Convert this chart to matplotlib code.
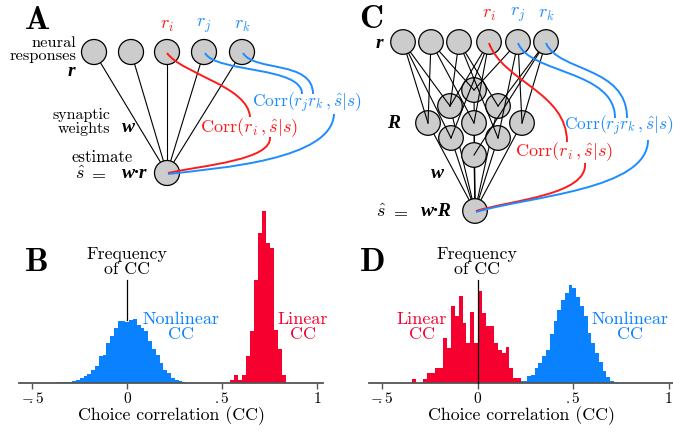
import matplotlib
matplotlib.use("Agg")
import matplotlib.pyplot as plt
import numpy as np
from matplotlib.patches import Circle, PathPatch
from matplotlib.path import Path

plt.rcParams["mathtext.fontset"] = "cm"
plt.rcParams["font.family"] = "serif"
plt.rcParams["font.serif"] = ["cmr10", "DejaVu Serif"]
plt.rcParams["axes.unicode_minus"] = False

# ---- histogram data (bar heights) ----
b_nonlin_start, b_nonlin_width = -0.41, 0.02
b_nonlin = [0.5, 0.5, 1, 1, 1, 1.5, 2, 3, 5, 7, 9, 13, 17, 27, 28, 40, 47, 55, 62, 62,
            61, 63, 64, 58, 55, 52, 42, 34, 28, 20, 13, 10, 5, 3, 2, 1, 0.5, 0.5, 0.5, 0.5, 0.5]
b_lin_start, b_lin_width = 0.54, 0.021
b_lin = [3, 8, 3, 8, 27, 52, 103, 150, 172, 140, 135, 53, 34, 8]

d_lin_start, d_lin_width = -0.345, 0.0205
d_lin = [4, 0, 0, 4, 10, 10, 15, 15, 45, 35, 77, 67, 87, 60, 40, 71, 40, 92, 70, 57,
         57, 40, 33, 30, 36, 15, 5, 5]
d_nonlin_start, d_nonlin_width = 0.101, 0.0198
d_nonlin = [1, 1, 1, 1, 1, 2, 2, 2, 7, 8, 15, 20, 27, 33, 49, 62, 73, 83, 90, 98,
            95, 86, 77, 67, 50, 40, 30, 21, 12, 6, 2, 1]

tick_vals = [-0.5, 0, 0.5, 1]
tick_labels = [r"$-\!\!.5$", "$0$", "$.5$", "$1$"]

RED = "#f5002f"
BLUE = "#0a82ff"
CRED = "#ff1a1a"
CBLUE = "#1e8cff"
GRAY = "#cccccc"

W, H = 673, 432
fig = plt.figure(figsize=(W / 100, H / 100), dpi=100)


def edges(start, width, n):
    return start + width * np.arange(n + 1)


def hist_axes(left_px, zero_px, scale):
    ax = fig.add_axes([left_px / W, (H - 383) / H, 304 / W, 175 / H])
    ax.set_xlim((left_px - zero_px) / scale, (left_px + 304 - zero_px) / scale)
    ax.set_ylim(0, 175)
    ax.patch.set_alpha(0)
    for s in ["top", "left", "right"]:
        ax.spines[s].set_visible(False)
    ax.spines["bottom"].set_color("#555555")
    ax.spines["bottom"].set_linewidth(1.3)
    ax.set_yticks([])
    ax.set_xticks(tick_vals)
    ax.set_xticklabels(tick_labels, fontsize=11)
    ax.tick_params(axis="x", direction="out", length=4, width=1, color="#555555", pad=2)
    ax.set_xlabel("Choice correlation (CC)", fontsize=12.8, labelpad=0)
    return ax


axB = hist_axes(19, 127.3, 190)
axB.stairs(b_nonlin, edges(b_nonlin_start, b_nonlin_width, len(b_nonlin)), fill=True, color=BLUE)
axB.stairs(b_lin, edges(b_lin_start, b_lin_width, len(b_lin)), fill=True, color=RED)

axD = hist_axes(369, 477.5, 191)
axD.stairs(d_nonlin, edges(d_nonlin_start, d_nonlin_width, len(d_nonlin)), fill=True, color=BLUE)
axD.stairs(d_lin, edges(d_lin_start, d_lin_width, len(d_lin)), fill=True, color=RED)

# ---- overlay in pixel coordinates for diagrams ----
ov = fig.add_axes([0, 0, 1, 1])
ov.set_xlim(0, W)
ov.set_ylim(H, 0)
ov.axis("off")
ov.patch.set_alpha(0)


def neuron(x, y, r=12.5, z=3):
    ov.add_patch(Circle((x, y), r, facecolor=GRAY, edgecolor="black", lw=0.9, zorder=z))


def line(p, q, z=2, lw=0.8):
    ov.plot([p[0], q[0]], [p[1], q[1]], color="black", lw=lw, zorder=z)


def curve(pts, color, z=5):
    codes = [Path.MOVETO, Path.CURVE4, Path.CURVE4, Path.CURVE4]
    ov.add_patch(PathPatch(Path(pts, codes), facecolor="none", edgecolor=color, lw=1.4, zorder=z))


def bfit(x, y, s, **kw):
    ov.text(x, y, s, family="Liberation Serif", weight="bold", style="italic",
            va="center", zorder=6, **kw)


def lbl(x, y, s, size, **kw):
    ov.text(x, y, s, fontsize=size, va="center", linespacing=0.95, **kw)


# Panel A
lbl(37, 20, r"$\mathbf{A}$", 24, ha="center")
top_a = [94, 131, 167, 204, 242]
out_a = (167, 173)
for x in top_a:
    line((x, 52), out_a)
    neuron(x, 52)
neuron(*out_a)
lbl(167, 26, r"$r_i$", 13, color=CRED, ha="center")
lbl(204, 26, r"$r_j$", 13, color=CBLUE, ha="center")
lbl(242, 26, r"$r_k$", 13, color=CBLUE, ha="center")
lbl(76, 50, "neural\nresponses", 11.8, ha="right")
bfit(71, 71, "r", fontsize=14, ha="center")
lbl(110, 122, "synaptic\nweights", 11.5, ha="right")
bfit(128, 127, "w", fontsize=14, ha="center")
lbl(102, 157, "estimate", 12, ha="center")
lbl(80, 173, r"$\hat{s}$", 13, ha="center")
lbl(97, 173, r"$=$", 13, ha="center")
bfit(147, 174, "w·r", fontsize=14, ha="right")

curve([(167, 53), (182, 74), (248, 86), (250, 117)], CRED)
curve([(205, 53), (216, 73), (302, 66), (302, 94)], CBLUE)
curve([(243, 53), (254, 72), (313, 60), (313, 94)], CBLUE)
curve([(270, 137), (272, 160), (205, 165), (168, 173)], CRED)
curve([(334, 114), (332, 160), (220, 168), (168, 174)], CBLUE)
lbl(200, 128, r"$\mathrm{Corr}(r_i\,,\hat{s}|s)$", 13.2, color=CRED, ha="left")
lbl(252, 103, r"$\mathrm{Corr}(r_j r_k\,,\hat{s}|s)$", 12.6, color=CBLUE, ha="left")

# Panel C
lbl(371, 19, r"$\mathbf{C}$", 24, ha="center")
top_c = [403, 431, 459, 489, 518, 546]
hid_c = [(474, 90), (450, 106), (498, 106), (428, 123), (474, 123), (522, 123),
         (451, 138), (498, 138), (474, 155)]
out_c = (475, 211)
links = [(0, 3), (0, 1), (0, 6), (1, 3), (1, 0), (1, 4), (2, 1), (2, 2), (2, 7),
         (3, 1), (3, 4), (3, 6), (4, 0), (4, 5), (4, 7), (5, 2), (5, 5), (5, 8)]
for h in hid_c:
    line(h, out_c, z=1)
    neuron(*h, r=12.3, z=2)
for t, h in links:
    line((top_c[t], 42), hid_c[h], z=2.5)
for x in top_c:
    neuron(x, 42, r=12.3, z=3)
neuron(*out_c, r=12.3, z=3)
lbl(489, 15, r"$r_i$", 13, color=CRED, ha="center")
lbl(518, 15, r"$r_j$", 13, color=CBLUE, ha="center")
lbl(546, 15, r"$r_k$", 13, color=CBLUE, ha="center")
bfit(379, 44, "r", fontsize=14, ha="center")
bfit(394, 124, "R", fontsize=14, ha="center")
bfit(437, 174, "w", fontsize=14, ha="center")
lbl(381, 211, r"$\hat{s}$", 13, ha="center")
lbl(399, 211, r"$=$", 13, ha="center")
bfit(452, 212, "w·R", fontsize=14, ha="right")

curve([(489, 43), (503, 82), (567, 92), (567, 142)], CRED)
curve([(518, 43), (530, 74), (615, 70), (615, 118)], CBLUE)
curve([(546, 43), (558, 72), (627, 66), (627, 118)], CBLUE)
curve([(585, 163), (588, 195), (512, 200), (476, 211)], CRED)
curve([(648, 140), (648, 190), (530, 196), (476, 212)], CBLUE)
lbl(515, 152, r"$\mathrm{Corr}(r_i\,,\hat{s}|s)$", 13.2, color=CRED, ha="left")
lbl(564, 126, r"$\mathrm{Corr}(r_j r_k\,,\hat{s}|s)$", 12.6, color=CBLUE, ha="left")

# Panel B labels
lbl(36, 262, r"$\mathbf{B}$", 24, ha="center")
lbl(127, 262, "Frequency\nof CC", 12.8, ha="center")
ov.plot([127, 127], [280, 320], color="black", lw=0.9, zorder=1)
lbl(181, 327, "Nonlinear\nCC", 13, color=BLUE, ha="center")
lbl(303, 327, "Linear\nCC", 13, color=RED, ha="center")

# Panel D labels
lbl(372, 262, r"$\mathbf{D}$", 24, ha="center")
lbl(477, 262, "Frequency\nof CC", 12.8, ha="center")
ov.plot([477.5, 477.5], [280, 383], color="black", lw=0.9, zorder=4)
lbl(422, 327, "Linear\nCC", 13, color=RED, ha="center")
lbl(630, 327, "Nonlinear\nCC", 13, color=BLUE, ha="center")

fig.savefig("out.png", dpi=100)
